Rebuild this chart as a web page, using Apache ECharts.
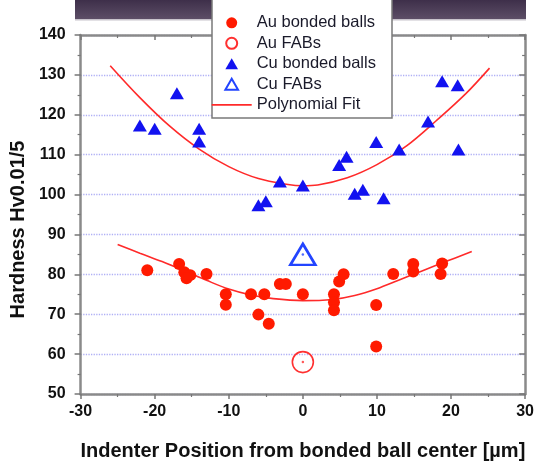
<!DOCTYPE html>
<html>
<head>
<meta charset="utf-8">
<script src="https://cdn.jsdelivr.net/npm/echarts@6/dist/echarts.min.js"></script>
<style>
html,body{margin:0;padding:0;background:#fff;}
#c{width:537px;height:466px;}
</style>
</head>
<body>
<div id="c"></div>
<script>
// ---- data ----
const xTicks = [-30, 30, 10];   // min, max, interval
const yTicks = [50, 140, 10];

const auBonded = [[-21,81],[-16.7,82.6],[-16,80.5],[-15.2,79.8],[-15.7,79],[-13,80.1],
  [-10.4,75],[-10.4,72.4],[-7,75],[-5.2,75],[-6,69.9],[-4.6,67.6],[-3.1,77.6],[-2.3,77.6],
  [0,75],[4.2,75],[4.2,73],[4.2,71],[4.9,78.2],[5.5,80],[9.9,72.3],[9.9,61.9],[12.2,80.1],
  [14.9,82.6],[14.9,80.7],[18.8,82.7],[18.6,80.1]];
const auFab = [[0,58]];
const cuBonded = [[-22,117.3],[-20,116.5],[-17,125.4],[-14,116.5],[-14,113.3],[-6,97.3],
  [-5,98.3],[-3.1,103.3],[0,102.3],[4.9,107.4],[5.9,109.5],[9.9,113.2],[13,111.3],
  [16.9,118.3],[18.8,128.4],[20.9,127.4],[21,111.3],[7,100.2],[8.1,101.2],[10.9,99.1]];
const cuFab = [[0,85]];
const cuFit = [[-26,132.3],[-22,124.3],[-18,117.2],[-14,111.4],[-10,107.0],[-6,104.0],
  [-2,102.5],[0,102.2],[2,102.4],[6,104.2],[10,107.5],[14,112.2],[18,118.5],[22,125.3],[25.2,131.7]];
const auFit = [[-25,87.5],[-22,85.3],[-19,83.2],[-16,80.9],[-13,78.5],[-10,76.3],[-7,74.8],
  [-4,73.9],[0,73.4],[4,73.7],[7,74.7],[10,76.4],[13,78.6],[16,80.8],[19,83.0],[22.8,85.7]];
const legendNames = ['Au bonded balls','Au FABs','Cu bonded balls','Cu FABs','Polynomial Fit'];
const xTitle = 'Indenter Position from bonded ball center [µm]';
const yTitle = 'Hardness Hv0.01/5';

// ---- chart ----
const FONT = '"Liberation Sans", Arial, sans-serif';
const AX = '#8a8a8a';
const TRI = 'path://M6,0L12,10.4L0,10.4Z';
const LINEICON = 'path://M0,0H40V1.7H0Z';
const chart = echarts.init(document.getElementById('c'), null, {renderer:'canvas'});

function xAxisDef(pos){
  const bottom = pos === 'bottom';
  return {
    type:'value', position:pos, min:xTicks[0], max:xTicks[1], interval:xTicks[2],
    axisLine:{show:true, onZero:false, lineStyle:{color:AX, width:2.5}},
    axisTick:{show:true, inside:!bottom, length:5, lineStyle:{color:'#777', width:1.5}},
    minorTick:{show:true, splitNumber:2, length:3, lineStyle:{color:'#777', width:1.2}},
    axisLabel:{show:bottom, margin:10, color:'#111', fontFamily:FONT, fontSize:16, fontWeight:'bold'},
    splitLine:{show:false},
    name: bottom ? xTitle : '', nameLocation:'middle', nameGap:47,
    nameTextStyle:{color:'#111', fontFamily:FONT, fontSize:20, fontWeight:'bold'}
  };
}
function yAxisDef(pos){
  const left = pos === 'left';
  return {
    type:'value', position:pos, min:yTicks[0], max:yTicks[1], interval:yTicks[2],
    axisLine:{show:true, onZero:false, lineStyle:{color:AX, width:2.5}},
    axisTick:{show:true, inside:!left, length:6, lineStyle:{color:'#777', width:1.5}},
    minorTick:{show:true, splitNumber:2, length:3, lineStyle:{color:'#777', width:1.2}},
    axisLabel:{show:left, margin:15, color:'#111', fontFamily:FONT, fontSize:16, fontWeight:'bold'},
    splitLine:{show:left, lineStyle:{color:'#b0b0f5', type:'dotted', width:1.3}},
    name: left ? yTitle : '', nameLocation:'middle', nameGap:51, nameRotate:90,
    nameTextStyle:{color:'#111', fontFamily:FONT, fontSize:20, fontWeight:'bold', padding:[0,30,0,0]}
  };
}

chart.setOption({
  animation:false,
  backgroundColor:'#fff',
  grid:{left:77.5, right:10.5, top:35, bottom:67.7, containLabel:false},
  xAxis:[xAxisDef('bottom'), xAxisDef('top')],
  yAxis:[yAxisDef('left'), yAxisDef('right')],
  legend:{
    data:[
      {name:legendNames[0], icon:'circle'},
      {name:legendNames[1], icon:'circle'},
      {name:legendNames[2], icon:TRI},
      {name:legendNames[3], icon:TRI},
      {name:legendNames[4], icon:LINEICON}
    ],
    orient:'vertical', left:211.7, top:14.3, padding:0,
    itemWidth:40, itemHeight:11, itemGap:3.5, z:6, symbolKeepAspect:true,
    textStyle:{color:'#1a1a2a', fontFamily:FONT, fontSize:16.5}
  },
  graphic:[
    {type:'rect', z:1, shape:{x:75, y:0, width:451, height:19},
     style:{fill:new echarts.graphic.LinearGradient(0,0,0,1,[{offset:0,color:'#3e2f4a'},{offset:1,color:'#5c4e66'}])}},
    {type:'rect', z:1, shape:{x:75, y:19, width:451, height:1.5}, style:{fill:'#c8c4cc'}},
    {type:'rect', z:5, shape:{x:212, y:-3, width:180, height:121},
     style:{fill:'#fff', stroke:'#7a7a7a', lineWidth:1.5}}
  ],
  series:[
    {name:'Polynomial Fit', type:'line', data:cuFit, smooth:0.35, showSymbol:false, symbol:'none',
     lineStyle:{color:'#ff2a2a', width:1.6}, itemStyle:{color:'#ff2a2a'}, z:2},
    {name:'Polynomial Fit', type:'line', data:auFit, smooth:0.35, showSymbol:false, symbol:'none',
     lineStyle:{color:'#ff2a2a', width:1.6}, itemStyle:{color:'#ff2a2a'}, z:2},
    {name:'Au bonded balls', type:'scatter', data:auBonded, symbol:'circle', symbolSize:12,
     itemStyle:{color:'#ff1a00', opacity:1}, z:3},
    {name:'Au FABs', type:'scatter', data:auFab, symbol:'circle', symbolSize:21,
     itemStyle:{color:'rgba(255,255,255,0)', borderColor:'#ff3030', borderWidth:1.6, opacity:1}, z:3},
    {name:'Cu bonded balls', type:'scatter', data:cuBonded, symbol:'triangle', symbolSize:[14,12],
     itemStyle:{color:'#1212f0', opacity:1}, z:3},
    {name:'Cu FABs', type:'scatter', data:cuFab, symbol:'triangle', symbolSize:[25,21],
     itemStyle:{color:'rgba(255,255,255,0)', borderColor:'#2244ff', borderWidth:2.6, opacity:1}, z:3},
    {name:'fabDotAu', type:'scatter', data:auFab, symbol:'circle', symbolSize:2.5, silent:true,
     itemStyle:{color:'#ff3030'}, z:3},
    {name:'fabDotCu', type:'scatter', data:cuFab, symbol:'circle', symbolSize:2.5, silent:true,
     itemStyle:{color:'#2244ff'}, z:3}
  ]
});
</script>
</body>
</html>
